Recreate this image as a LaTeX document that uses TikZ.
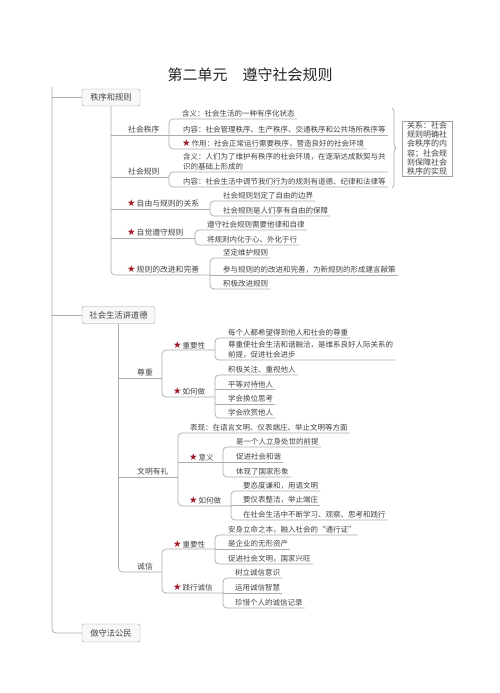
\documentclass[tikz,border=0pt]{standalone}
\usepackage{fontspec}
\usepackage{xcolor}
\usepackage{tikz}
\usetikzlibrary{
	calc,
	positioning,
	decorations.pathreplacing
}
\setmainfont{Noto Sans CJK SC}
\newfontfamily\symfont{DejaVu Sans}
\definecolor{LineGray}{RGB}{172, 172, 172}
\definecolor{TextGray}{RGB}{68, 68, 68}
\definecolor{BoxGray}{RGB}{160, 160, 165}
\definecolor{BoxFill}{RGB}{247, 248, 250}
\definecolor{StarRed}{RGB}{158, 27, 42}
\newcommand\hotstar{{\symfont\fontsize{9.5}{9.5}\selectfont\textcolor{StarRed}{★}}\hspace{1pt}}

\begin{document}
\begin{tikzpicture}[x=1pt, y=-1pt,
	link/.style={draw=LineGray, line width=0.7pt, rounded corners=4pt},
	trunk/.style={link, line width=0.8pt},
	topic/.style={anchor=south west, inner xsep=2pt, inner ysep=1.2pt, text=TextGray, font=\fontsize{7.5}{10}\selectfont, align=left},
	sub/.style={topic, font=\fontsize{7.8}{10}\selectfont},
	mainbox/.style={draw=BoxGray, fill=BoxFill, rounded corners=2pt, text=TextGray, font=\fontsize{8.3}{10}\selectfont, minimum height=17pt, inner xsep=0pt},
	relbox/.style={draw=BoxGray, text=TextGray, font=\fontsize{8}{9.2}\selectfont, align=left, minimum width=50pt, minimum height=55pt, inner sep=0pt}]
	% 画布与标题
	\fill[white] (0,0) rectangle (500,693);
	\useasboundingbox (0,0) rectangle (500,693);
	\node[text=black!85, font=\fontsize{15}{15}\selectfont] (title) at (250,75) {第二单元　遵守社会规则};
	
	% 一级主题
	\node[mainbox, minimum width=58pt] (m1) at (111,97.5) {秩序和规则};
	\node[mainbox, minimum width=73pt] (m2) at (118.5,315) {社会生活讲道德};
	\node[mainbox, minimum width=58pt, minimum height=18pt] (m3) at (111,633) {做守法公民};
	\coordinate (root) at (52,87);
	\draw[trunk] (root) |- (m3.west);
	\draw[trunk] (root |- m1.west) -- (m1.west);
	\draw[trunk] (root |- m2.west) -- (m2.west);
	
	% 秩序和规则
	\node[sub] (n11) at (126,135) {社会秩序};
	\node[sub] (n12) at (126,177) {社会规则};
	\node[sub] (n13) at (125,209) {\hotstar 自由与规则的关系};
	\node[sub] (n14) at (125,238) {\hotstar 自觉遵守规则};
	\node[sub] (n15) at (125,275) {\hotstar 规则的改进和完善};
	\coordinate (f11) at (169,0);
	\coordinate (f12) at (169,0);
	\coordinate (f13) at (210,0);
	\coordinate (f14) at (195,0);
	\coordinate (f15) at (210,0);
	\node[topic] (n111) at (180,119) {含义：社会生活的一种有序化状态};
	\node[topic] (n112) at (181,135) {内容：社会管理秩序、生产秩序、交通秩序和公共场所秩序等};
	\node[topic] (n113) at (180,149) {\hotstar 作用：社会正常运行需要秩序，营造良好的社会环境};
	\node[topic] (n121) at (181,172) {含义：人们为了维护有秩序的社会环境，在逐渐达成默契与共\\识的基础上形成的};
	\node[topic] (n122) at (181,187) {内容：社会生活中调节我们行为的规则有道德、纪律和法律等};
	\node[topic] (n131) at (221,201) {社会规则划定了自由的边界};
	\node[topic] (n132) at (221,216) {社会规则是人们享有自由的保障};
	\node[topic] (n141) at (205,230) {遵守社会规则需要他律和自律};
	\node[topic] (n142) at (205,245) {将规则内化于心、外化于行};
	\node[topic] (n151) at (221,258) {坚定维护规则};
	\node[topic] (n152) at (221,275) {参与规则的的改进和完善，为新规则的形成建言献策};
	\node[topic] (n153) at (221,289) {积极改进规则};
	\coordinate (br1) at (392,108);
	\coordinate (br2) at (392,188);
	\draw[draw=LineGray, line width=0.7pt, decorate, decoration={brace, amplitude=4pt}] (br1) -- (br2);
	\node[relbox] (rel) at (427,148.5) {关系：社会\\规则明确社\\会秩序的内\\容；社会规\\则保障社会\\秩序的实现};
	
	% 社会生活讲道德
	\node[sub] (n21) at (135,378) {尊重};
	\node[sub] (n22) at (135,477) {文明有礼};
	\node[sub] (n23) at (135,572) {诚信};
	\coordinate (f21) at (162,0);
	\coordinate (f22) at (178,0);
	\coordinate (f23) at (162,0);
	\node[topic] (n211) at (171,350) {\hotstar 重要性};
	\node[topic] (n212) at (171,397) {\hotstar 如何做};
	\coordinate (f211) at (215,0);
	\coordinate (f212) at (215,0);
	\node[topic] (n2111) at (226,338) {每个人都希望得到他人和社会的尊重};
	\node[topic] (n2112) at (226,360) {尊重使社会生活和谐融洽，是维系良好人际关系的\\前提，促进社会进步};
	\node[topic] (n2121) at (226,375) {积极关注、重视他人};
	\node[topic] (n2122) at (226,389) {平等对待他人};
	\node[topic] (n2123) at (226,404) {学会换位思考};
	\node[topic] (n2124) at (226,418) {学会欣赏他人};
	\node[topic] (n221) at (188,433) {表现：在语言文明、仪表端庄、举止文明等方面};
	\node[topic] (n222) at (187,462) {\hotstar 意义};
	\node[topic] (n223) at (187,506) {\hotstar 如何做};
	\coordinate (f222) at (223,0);
	\coordinate (f223) at (231,0);
	\node[topic] (n2221) at (234,447) {是一个人立身处世的前提};
	\node[topic] (n2222) at (234,462) {促进社会和谐};
	\node[topic] (n2223) at (234,477) {体现了国家形象};
	\node[topic] (n2231) at (241,491) {要态度谦和，用语文明};
	\node[topic] (n2232) at (241,505) {要仪表整洁，举止端庄};
	\node[topic] (n2233) at (241,520) {在社会生活中不断学习、观察、思考和践行};
	\node[topic] (n231) at (171,549) {\hotstar 重要性};
	\node[topic] (n232) at (171,593) {\hotstar 践行诚信};
	\coordinate (f231) at (215,0);
	\coordinate (f232) at (223,0);
	\node[topic] (n2311) at (226,535) {安身立命之本，融入社会的“通行证”};
	\node[topic] (n2312) at (226,549) {是企业的无形资产};
	\node[topic] (n2313) at (226,564) {促进社会文明，国家兴旺};
	\node[topic] (n2321) at (233,578) {树立诚信意识};
	\node[topic] (n2322) at (233,593) {运用诚信智慧};
	\node[topic] (n2323) at (233,608) {珍惜个人的诚信记录};
	
	% 连线：一级到二级
	\draw[link] (m1.south) |- (n15.south west -| f15);
	\foreach \n/\f in {n11/f11, n12/f12, n13/f13, n14/f14}
	\draw[link] (\n.south west -| m1.south) -- (\n.south east -| \f);
	\draw[link] (m2.south) |- (n23.south west -| f23);
	\foreach \n/\f in {n21/f21, n22/f22}
	\draw[link] (\n.south west -| m2.south) -- (\n.south east -| \f);
	
	% 连线：分组括线
	\foreach \a/\b/\f in {n111/n113/f11, n121/n122/f12, n131/n132/f13, n141/n142/f14, n151/n153/f15, n2111/n2112/f211, n2121/n2124/f212, n2221/n2223/f222, n2231/n2233/f223, n2311/n2313/f231, n2321/n2323/f232}
	\draw[link] (\a.south east) -- (\a.south west -| \f) -- (\b.south west -| \f) -- (\b.south east);
	\draw[link] (n211.south east -| f211) -- (n211.south west -| f21) -- (n212.south west -| f21) -- (n212.south east -| f212);
	\draw[link] (n221.south east) -- (n221.south west -| f22) -- (n223.south west -| f22) -- (n223.south east -| f223);
	\draw[link] (n231.south east -| f231) -- (n231.south west -| f23) -- (n232.south west -| f23) -- (n232.south east -| f232);
	\draw[link] (n222.south west -| f22) -- (n222.south east -| f222);
	\foreach \n/\f in {n112/f11, n152/f15, n2122/f212, n2123/f212, n2222/f222, n2232/f223, n2312/f231, n2322/f232}
	\draw[link] (\n.south west -| \f) -- (\n.south east);
\end{tikzpicture}
\end{document}
